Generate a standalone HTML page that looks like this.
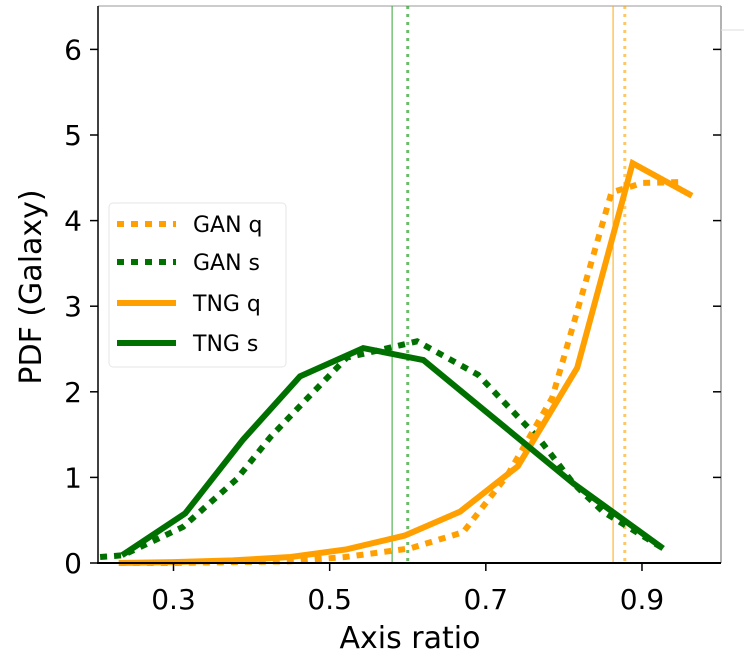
<!DOCTYPE html>
<html><head><meta charset="utf-8"><style>
html,body{margin:0;padding:0;background:#fff;width:744px;height:666px;overflow:hidden}
svg{display:block;font-family:"DejaVu Sans","Liberation Sans",sans-serif}
</style></head><body>
<svg id="chart" width="744" height="666" xmlns="http://www.w3.org/2000/svg">
<g id="plot"></g>
</svg>
<script>
const xTicks=[0.3,0.5,0.7,0.9];
const xTickLabels=["0.3","0.5","0.7","0.9"];
const yTicks=[0,1,2,3,4,5,6];
const yTickLabels=["0","1","2","3","4","5","6"];
const tngQx=[0.23,0.30,0.376,0.45,0.522,0.596,0.667,0.741,0.817,0.888,0.964];
const tngQy=[0,0.01,0.03,0.07,0.16,0.32,0.6,1.13,2.28,4.67,4.29];
const ganQx=[0.23,0.30,0.376,0.45,0.52,0.603,0.671,0.728,0.785,0.861,0.901,0.949];
const ganQy=[0,0,0.01,0.02,0.07,0.17,0.36,1.03,1.93,4.33,4.44,4.45];
const tngSx=[0.234,0.315,0.389,0.462,0.543,0.62,0.696,0.812,0.927];
const tngSy=[0.09,0.58,1.44,2.18,2.51,2.37,1.8,0.93,0.17];
const ganSx=[0.206,0.235,0.312,0.381,0.424,0.472,0.522,0.565,0.612,0.69,0.77,0.812,0.85,0.927];
const ganSy=[0.07,0.09,0.42,0.98,1.47,1.93,2.4,2.49,2.59,2.2,1.43,0.93,0.6,0.17];
const vlines=[{v:0.58,c:"#2ca02c",d:null,w:1.2,o:0.8,n:"tng-s-median"},{v:0.6,c:"#2ca02c",d:"3,5",w:3,o:0.7,n:"gan-s-median"},{v:0.863,c:"#ffa500",d:null,w:1.2,o:0.8,n:"tng-q-median"},{v:0.878,c:"#ffa500",d:"3,5",w:3,o:0.6,n:"gan-q-median"}];

const X=v=>173.5+(v-0.3)*780.8;
const Y=v=>563-v*85.6;
const L=98,R=721,T=6,B=563;
const NS="http://www.w3.org/2000/svg";
const g=document.getElementById('plot');
function mk(t,a,parent){const e=document.createElementNS(NS,t);for(const k in a)e.setAttribute(k,a[k]);(parent||g).appendChild(e);return e;}

let e;
e=mk('line',{x1:L,y1:T,x2:R,y2:T,stroke:'#bbb','stroke-width':1.5});


e=mk('line',{x1:R,y1:T,x2:R,y2:B,stroke:'#999','stroke-width':1.5});


e=mk('line',{x1:R,y1:30,x2:744,y2:30,stroke:'#ddd','stroke-width':1});



vlines.forEach(l=>{
  const a={x1:X(l.v),y1:T,x2:X(l.v),y2:B,stroke:l.c,'stroke-width':l.w,opacity:l.o};
  if(l.d)a['stroke-dasharray']=l.d;
  const ln=mk('line',a);
  
  
});

function series(xs,ys,color,dash,name){
  const pts=xs.map((x,i)=>X(x).toFixed(1)+','+Y(ys[i]).toFixed(1)).join(' ');
  const a={points:pts,fill:'none',stroke:color,'stroke-width':6,'stroke-linejoin':'miter'};
  if(dash)a['stroke-dasharray']=dash;
  const p=mk('polyline',a);
  
  
}
series(ganSx,ganSy,'#007000','7,7','gan-s-line');
series(ganQx,ganQy,'#ffa000','7,7','gan-q-line');
series(tngQx,tngQy,'#ffa000',null,'tng-q-line');
series(tngSx,tngSy,'#007000',null,'tng-s-line');

e=mk('rect',{x:0,y:0,width:L-1,height:B+1,fill:'#fff'});



e=mk('line',{x1:L,y1:T,x2:L,y2:B,stroke:'#000','stroke-width':1.5});


e=mk('line',{x1:L-1,y1:B,x2:R,y2:B,stroke:'#000','stroke-width':2});



xTicks.forEach((v,i)=>{
  const t=mk('line',{x1:X(v),y1:B,x2:X(v),y2:B+8,stroke:'#000','stroke-width':1.5});
  
  
  const tx=mk('text',{x:X(v),y:B+46,'text-anchor':'middle','font-size':28,fill:'#000'});
  tx.textContent=xTickLabels[i];
  
  
});
yTicks.forEach((v,i)=>{
  const t=mk('line',{x1:L-8,y1:Y(v),x2:L,y2:Y(v),stroke:'#000','stroke-width':1.5});
  
  
  const t2=mk('line',{x1:R-8,y1:Y(v),x2:R,y2:Y(v),stroke:'#000','stroke-width':1.5});
  
  
  const tx=mk('text',{x:L-16,y:Y(v)+10,'text-anchor':'end','font-size':28,fill:'#000'});
  tx.textContent=yTickLabels[i];
  
  
});

e=mk('text',{x:410,y:648,'text-anchor':'middle','font-size':30,fill:'#000'});
e.textContent='Axis ratio';


e=mk('text',{x:0,y:0,'text-anchor':'middle','font-size':30,fill:'#000',transform:'translate(41,287) rotate(-90)'});
e.textContent='PDF (Galaxy)';



const lg=mk('g',{});


mk('rect',{x:109,y:203,width:177,height:164,rx:4,fill:'#fff','fill-opacity':0.85,stroke:'#e6e6e6','stroke-width':1},lg);
const legNames=['GAN q','GAN s','TNG q','TNG s'];
const legColors=['#ffa000','#007000','#ffa000','#007000'];
const legDash=['7,7','7,7',null,null];
const legY=[224,262,303,343];
legNames.forEach((n,i)=>{
  const eg=mk('g',{},lg);
  
  
  const a={x1:117,y1:legY[i],x2:176,y2:legY[i],stroke:legColors[i],'stroke-width':6};
  if(legDash[i])a['stroke-dasharray']=legDash[i];
  mk('line',a,eg);
  const t=mk('text',{x:193,y:legY[i]+8,'font-size':22,fill:'#000'},eg);
  t.textContent=n;
});
</script>
</body></html>
